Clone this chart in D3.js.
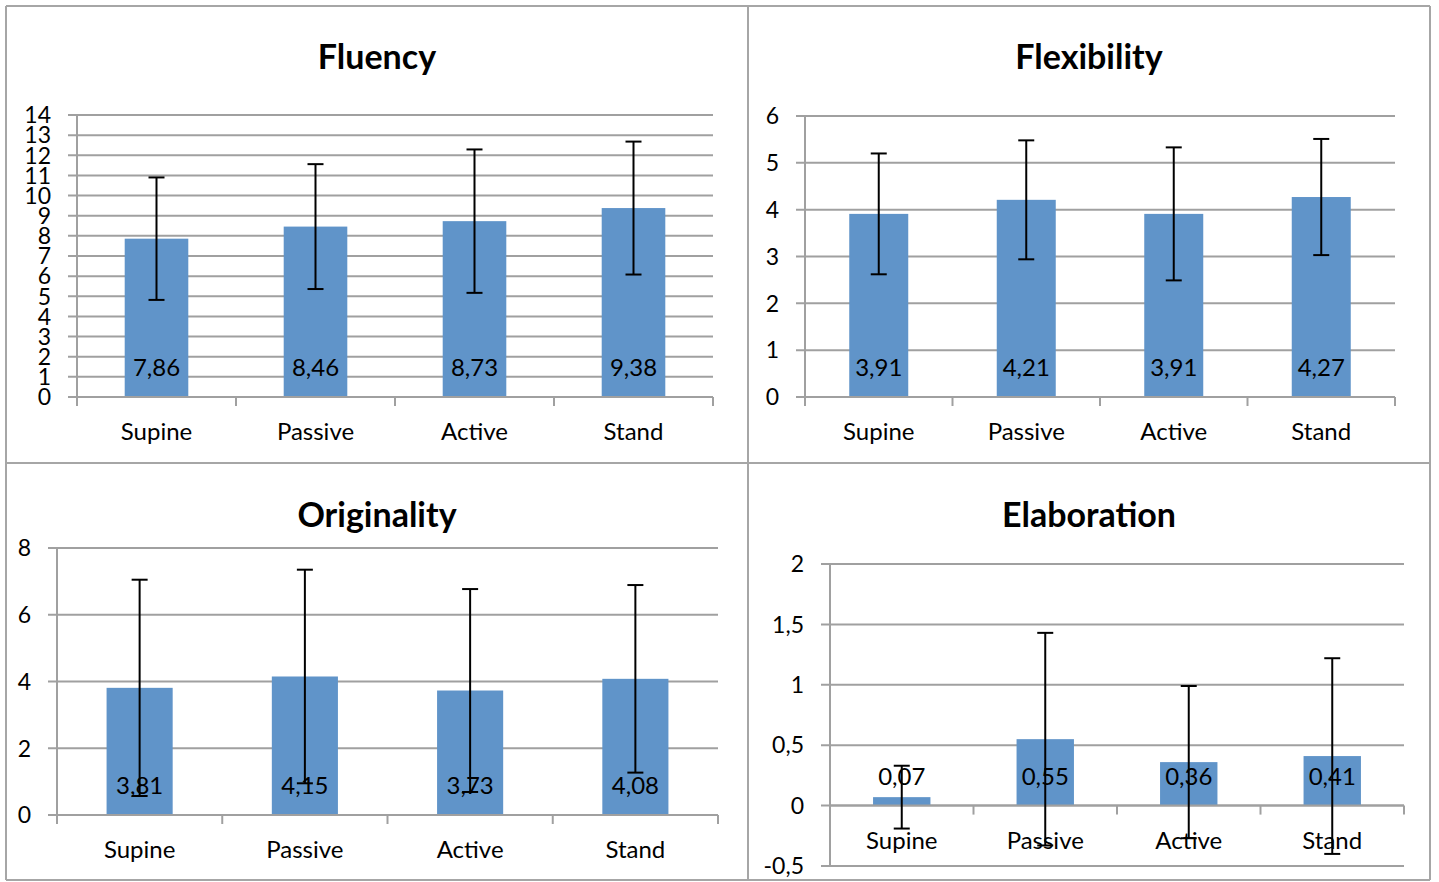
<!DOCTYPE html>
<html><head><meta charset="utf-8">
<script src="https://cdn.jsdelivr.net/npm/d3@7"></script>
<style>
html,body{margin:0;padding:0;background:#fff;}
svg{display:block;}
text{font-family:Lato,"Open Sans",sans-serif;fill:#000;}
</style></head>
<body><svg id="c" width="1439" height="882"></svg>
<script>
// ---- data ----
const categories = ["Supine", "Passive", "Active", "Stand"];

const fluencyMeans = [7.86, 8.46, 8.73, 9.38];
const fluencyErr   = [3.04, 3.10, 3.56, 3.30];
const fluencyTicks = [0,1,2,3,4,5,6,7,8,9,10,11,12,13,14];

const flexibilityMeans = [3.91, 4.21, 3.91, 4.27];
const flexibilityErr   = [1.29, 1.27, 1.42, 1.24];
const flexibilityTicks = [0,1,2,3,4,5,6];

const originalityMeans = [3.81, 4.15, 3.73, 4.08];
const originalityErr   = [3.24, 3.20, 3.04, 2.81];
const originalityTicks = [0,2,4,6,8];

const elaborationMeans = [0.07, 0.55, 0.36, 0.41];
const elaborationErr   = [0.26, 0.88, 0.63, 0.81];
const elaborationTicks = [-0.5,0,0.5,1,1.5,2];

const titles = ["Fluency", "Flexibility", "Originality", "Elaboration"];

// ---- styles / layout ----
const GRID = "#a0a0a0", BORDER = "#a6a6a6", BAR = "#6094c9";
const svg = d3.select("#c");
const fmt = v => String(v).replace(".", ",");
const fmt2 = v => v.toFixed(2).replace(".", ",");

// panel borders
const borderLines = [
  [6,6,1430,6],[6,463,1430,463],[6,880,1430,880],
  [6,6,6,880],[748,6,748,880],[1430,6,1430,880]
];
svg.selectAll("line.border").data(borderLines).join("line")
  .attr("x1",d=>d[0]).attr("y1",d=>d[1]).attr("x2",d=>d[2]).attr("y2",d=>d[3])
  .attr("stroke",BORDER).attr("stroke-width",2);

const panels = [
  {title:titles[0], means:fluencyMeans, err:fluencyErr, ticks:fluencyTicks,
   x0:77, x1:713, yTop:115, yBot:397, titleX:377, titleY:69},
  {title:titles[1], means:flexibilityMeans, err:flexibilityErr, ticks:flexibilityTicks,
   x0:805, x1:1395, yTop:116, yBot:397, titleX:1089, titleY:69},
  {title:titles[2], means:originalityMeans, err:originalityErr, ticks:originalityTicks,
   x0:57, x1:718, yTop:548, yBot:815, titleX:377, titleY:527},
  {title:titles[3], means:elaborationMeans, err:elaborationErr, ticks:elaborationTicks,
   x0:830, x1:1404, yTop:564, yBot:866, titleX:1089, titleY:527}
];

panels.forEach(p => {
  const g = svg.append("g");
  const y = d3.scaleLinear().domain(d3.extent(p.ticks)).range([p.yBot, p.yTop]);
  const x = d3.scaleBand().domain(categories).range([p.x0, p.x1]).paddingInner(0.6).paddingOuter(0.3);
  const xb = d3.scaleBand().domain(categories).range([p.x0, p.x1]);
  const y0 = y(0);

  // title
  g.append("text").attr("x",p.titleX).attr("y",p.titleY).attr("text-anchor","middle")
    .style("font-size","34px").style("font-weight","700").text(p.title);

  // gridlines + y ticks
  g.selectAll("line.grid").data(p.ticks).join("line")
    .attr("x1",p.x0-9).attr("x2",p.x1).attr("y1",d=>y(d)).attr("y2",d=>y(d))
    .attr("stroke",GRID).attr("stroke-width",2);
  g.selectAll("text.yt").data(p.ticks).join("text")
    .attr("x",p.x0-26).attr("y",d=>y(d)).attr("dy","0.36em").attr("text-anchor","end")
    .style("font-size","23px").text(d=>fmt(d));

  // bars
  g.selectAll("rect.bar").data(p.means).join("rect")
    .attr("x",(d,i)=>x(categories[i])).attr("width",x.bandwidth())
    .attr("y",d=>Math.min(y(d),y0)).attr("height",d=>Math.abs(y(d)-y0))
    .attr("fill",BAR);

  // y axis line
  g.append("line").attr("x1",p.x0).attr("x2",p.x0).attr("y1",p.yTop).attr("y2",p.yBot)
    .attr("stroke",GRID).attr("stroke-width",2);
  // x axis line at 0 with ticks at band edges
  g.append("line").attr("x1",p.x0).attr("x2",p.x1).attr("y1",y0).attr("y2",y0)
    .attr("stroke",GRID).attr("stroke-width",2);
  const edges = categories.map(c=>xb(c)).concat([p.x1]);
  g.selectAll("line.xt").data(edges).join("line")
    .attr("x1",d=>d).attr("x2",d=>d).attr("y1",y0).attr("y2",y0+9)
    .attr("stroke",GRID).attr("stroke-width",2);

  // category labels
  g.selectAll("text.cat").data(categories).join("text")
    .attr("x",d=>xb(d)+xb.bandwidth()/2).attr("y",y0+43).attr("text-anchor","middle")
    .style("font-size","24px").text(d=>d);

  // data labels
  g.selectAll("text.val").data(p.means).join("text")
    .attr("x",(d,i)=>xb(categories[i])+xb.bandwidth()/2).attr("y",y0-21).attr("text-anchor","middle")
    .style("font-size","24px").text(d=>fmt2(d));

  // error bars
  const eg = g.selectAll("g.err").data(p.means).join("g")
    .attr("transform",(d,i)=>`translate(${xb(categories[i])+xb.bandwidth()/2},0)`);
  eg.append("line").attr("x1",0).attr("x2",0)
    .attr("y1",(d,i)=>y(d+p.err[i])).attr("y2",(d,i)=>y(d-p.err[i]))
    .attr("stroke","#000").attr("stroke-width",2);
  eg.append("line").attr("x1",-8).attr("x2",8)
    .attr("y1",(d,i)=>y(d+p.err[i])).attr("y2",(d,i)=>y(d+p.err[i]))
    .attr("stroke","#000").attr("stroke-width",2);
  eg.append("line").attr("x1",-8).attr("x2",8)
    .attr("y1",(d,i)=>y(d-p.err[i])).attr("y2",(d,i)=>y(d-p.err[i]))
    .attr("stroke","#000").attr("stroke-width",2);
});
</script></body></html>
